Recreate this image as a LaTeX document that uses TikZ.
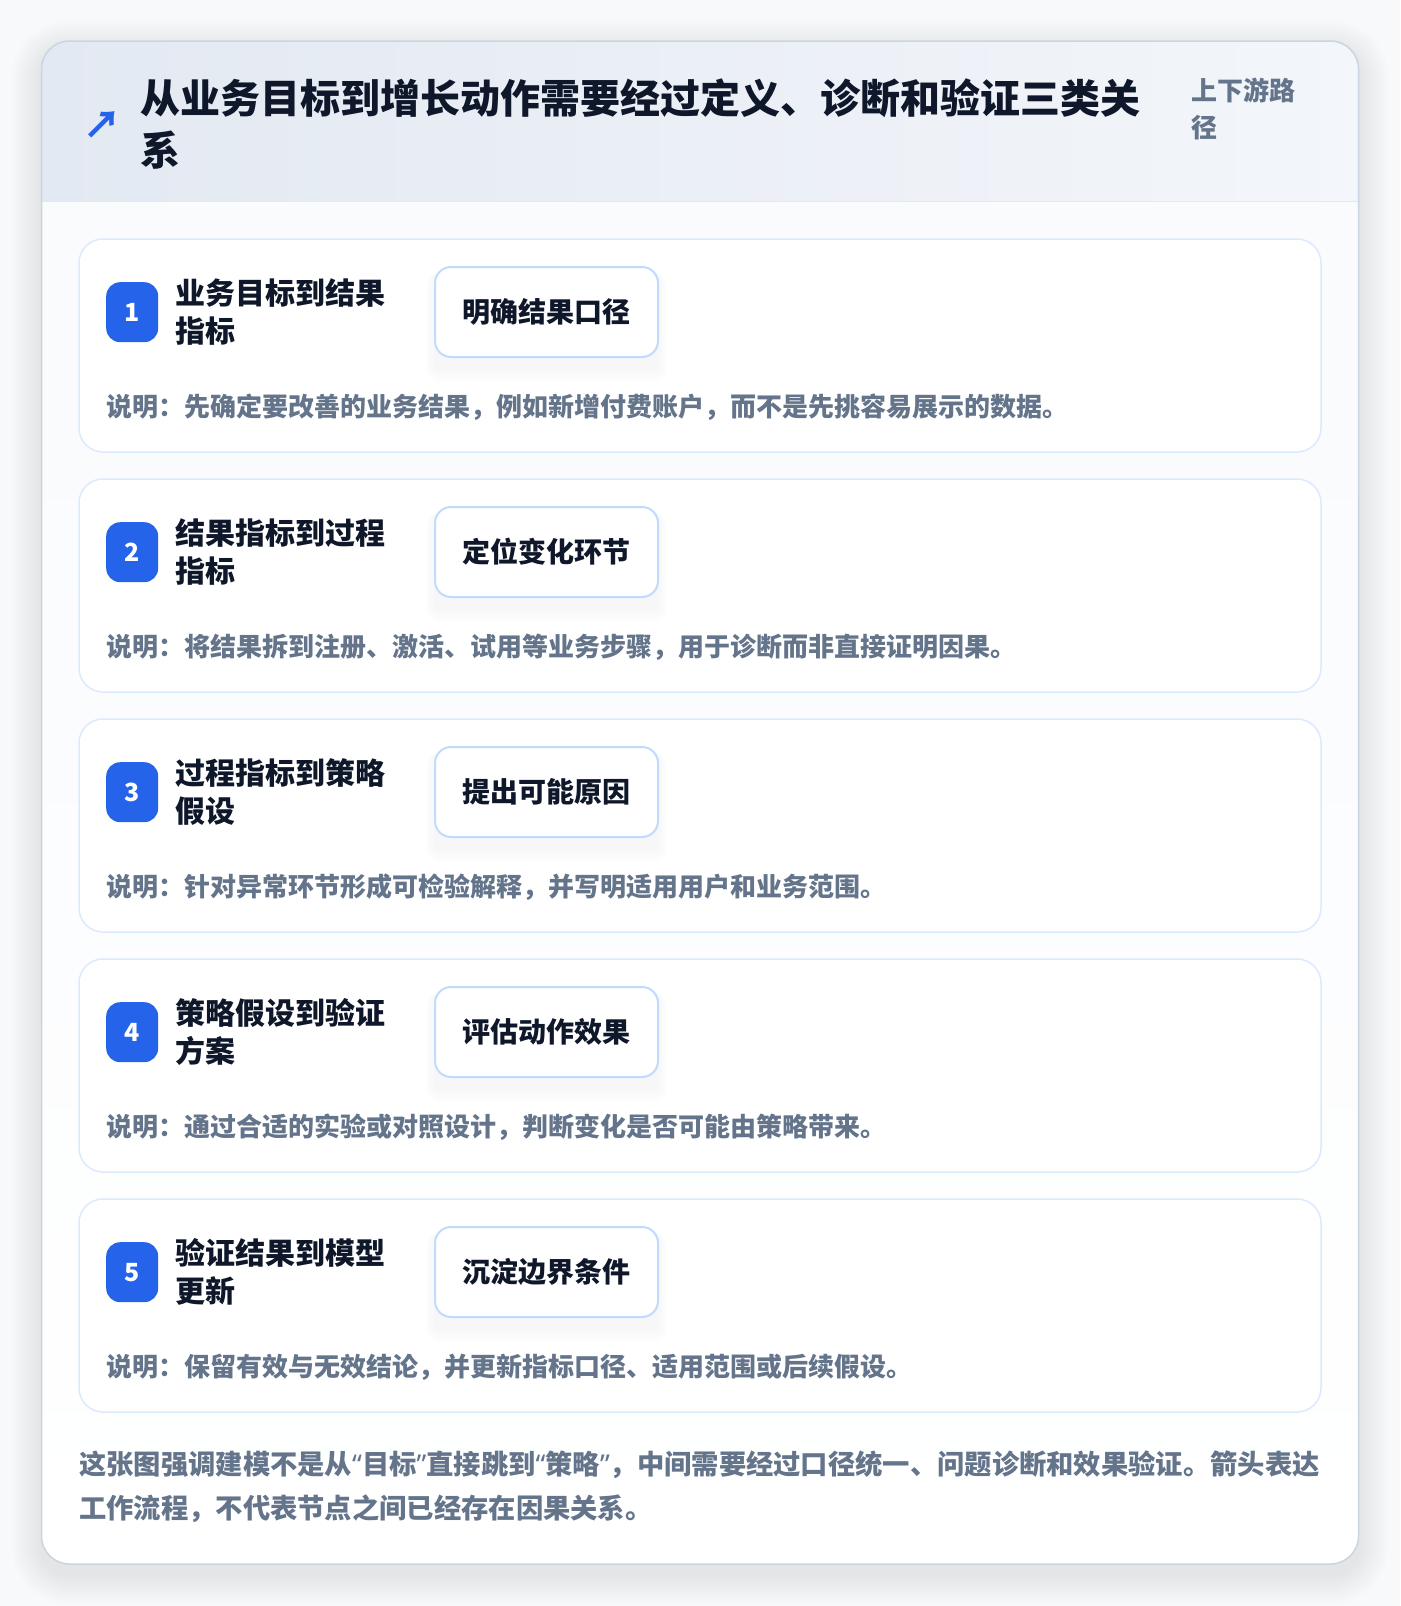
\documentclass[tikz,border=0pt]{standalone}
\usepackage{fontspec}
\setmainfont{Noto Sans CJK SC}
\newfontfamily\latinfont{Noto Sans}
\usetikzlibrary{positioning, calc}
\definecolor{inkdark}{HTML}{0F172A}
\definecolor{inkmuted}{HTML}{64748B}
\definecolor{badgeblue}{HTML}{2563EB}
\definecolor{cardline}{HTML}{DBEAFE}
\definecolor{actline}{HTML}{BFDBFE}
\definecolor{panelline}{HTML}{CBD5E1}
\definecolor{pagebg}{HTML}{F8F9FB}
\definecolor{bodybg}{HTML}{F8FAFC}
\definecolor{headleft}{HTML}{E3E9F2}
\definecolor{headright}{HTML}{F3F6FA}
\newcommand{\openq}{{\latinfont\char"201C}}
\newcommand{\closeq}{{\latinfont\char"201D}}
\tikzset{
  panel/.style={rounded corners=28pt, minimum width=1317pt, minimum height=1523pt, inner sep=0pt, outer sep=0pt,
    top color=bodybg, bottom color=white},
  rowcard/.style={draw=cardline, line width=1.5pt, fill=white, rounded corners=24pt, minimum width=1242pt, minimum height=213pt, inner sep=0pt, outer sep=0pt},
  numbadge/.style={fill=badgeblue, rounded corners=14pt, minimum width=52pt, minimum height=60pt, inner sep=0pt, text=white, font=\bfseries\fontsize{25}{25}\selectfont},
  rowname/.style={align=left, inner sep=0pt, text=inkdark, font=\bfseries\fontsize{30}{38}\selectfont},
  actbox/.style={draw=actline, line width=2pt, fill=white, rounded corners=16pt, minimum width=223pt, minimum height=90pt, inner sep=0pt, outer sep=0pt, text=inkdark, font=\bfseries\fontsize{28}{28}\selectfont},
  notetext/.style={inner sep=0pt, anchor=west, text=inkmuted, font=\bfseries\fontsize{26}{26}\selectfont},
  softshade/.style={fill=black, opacity=#1},
}

\begin{document}
\begin{tikzpicture}[x=1pt, y=1pt]
  \fill[pagebg] (0,0) rectangle (1400,-1606);
  \useasboundingbox (0,0) rectangle (1400,-1606);

  % soft shadow of the panel
  \foreach \s [evaluate=\s as \rr using 28+\s] in {3,6,...,30}
    \fill[softshade=0.006, rounded corners=\rr pt] (41.5-\s,-40.5+\s-10) rectangle (1358.5+\s,-1564-\s-10);

  % outer panel with header band
  \node[panel] (panel) at (700,-802.5) {};
  \begin{scope}
    \clip[rounded corners=28pt] (panel.north west) rectangle (panel.south east);
    \fill[left color=headleft, right color=headright] (panel.north west) rectangle ($(panel.north east)+(0,-160.5)$);
  \end{scope}
  \draw[cardline, line width=1.5pt] ($(panel.north west)+(0,-160.5)$) -- ($(panel.north east)+(0,-160.5)$);
  \draw[panelline, line width=1.5pt, rounded corners=28pt] (panel.north west) rectangle (panel.south east);

  \node[inner sep=0pt, anchor=west, text=inkdark, align=left, font=\bfseries\fontsize{40}{52}\selectfont] (title) at (140.5,-124) {从业务目标到增长动作需要经过定义、诊断和验证三类关\\系};
  \node[inner sep=0pt, text=badgeblue, font=\bfseries\fontsize{38}{38}\selectfont] (icon) at (102,-125) {↗};
  \node[inner sep=0pt, anchor=west, text=inkmuted, align=left, font=\bfseries\fontsize{26}{37}\selectfont] (tag) at (1191,-108.5) {上下游路\\径};

  % the five rows
  \node[rowcard] (row 1) at (700,-345.5) {};
  \node[rowcard, below=27pt of row 1] (row 2) {};
  \node[rowcard, below=27pt of row 2] (row 3) {};
  \node[rowcard, below=27pt of row 3] (row 4) {};
  \node[rowcard, below=27pt of row 4] (row 5) {};

  % shadows under the action boxes
  \foreach \r in {1,...,5}
    \foreach \s [evaluate=\s as \rr using 16+\s] in {2,4,...,16}
      \fill[softshade=0.004, rounded corners=\rr pt] ($(row \r.north west)+(356-0.6*\s,-28+0.5*\s-12)$) rectangle ($(row \r.north west)+(579+0.6*\s,-118-\s-10)$);

  \node[numbadge, below right=43pt and 27pt of row 1.north west] (badge 1) {1};
  \node[rowname, right=17pt of badge 1] (name 1) {业务目标到结果\\指标};
  \node[actbox, below right=28pt and 356pt of row 1.north west] (act 1) {明确结果口径};
  \node[notetext] (note 1) at ($(row 1.north west)+(27,-168)$) {说明：先确定要改善的业务结果，例如新增付费账户，而不是先挑容易展示的数据。};

  \node[numbadge, below right=43pt and 27pt of row 2.north west] (badge 2) {2};
  \node[rowname, right=17pt of badge 2] (name 2) {结果指标到过程\\指标};
  \node[actbox, below right=28pt and 356pt of row 2.north west] (act 2) {定位变化环节};
  \node[notetext] (note 2) at ($(row 2.north west)+(27,-168)$) {说明：将结果拆到注册、激活、试用等业务步骤，用于诊断而非直接证明因果。};

  \node[numbadge, below right=43pt and 27pt of row 3.north west] (badge 3) {3};
  \node[rowname, right=17pt of badge 3] (name 3) {过程指标到策略\\假设};
  \node[actbox, below right=28pt and 356pt of row 3.north west] (act 3) {提出可能原因};
  \node[notetext] (note 3) at ($(row 3.north west)+(27,-168)$) {说明：针对异常环节形成可检验解释，并写明适用用户和业务范围。};

  \node[numbadge, below right=43pt and 27pt of row 4.north west] (badge 4) {4};
  \node[rowname, right=17pt of badge 4] (name 4) {策略假设到验证\\方案};
  \node[actbox, below right=28pt and 356pt of row 4.north west] (act 4) {评估动作效果};
  \node[notetext] (note 4) at ($(row 4.north west)+(27,-168)$) {说明：通过合适的实验或对照设计，判断变化是否可能由策略带来。};

  \node[numbadge, below right=43pt and 27pt of row 5.north west] (badge 5) {5};
  \node[rowname, right=17pt of badge 5] (name 5) {验证结果到模型\\更新};
  \node[actbox, below right=28pt and 356pt of row 5.north west] (act 5) {沉淀边界条件};
  \node[notetext] (note 5) at ($(row 5.north west)+(27,-168)$) {说明：保留有效与无效结论，并更新指标口径、适用范围或后续假设。};

  \node[inner sep=0pt, anchor=west, text=inkmuted, align=left, font=\bfseries\fontsize{27.3}{44}\selectfont] (footer) at ($(row 5.south west)+(0,-75)$) {这张图强调建模不是从\openq 目标\closeq 直接跳到\openq 策略\closeq ，中间需要经过口径统一、问题诊断和效果验证。箭头表达\\工作流程，不代表节点之间已经存在因果关系。};
\end{tikzpicture}
\end{document}
